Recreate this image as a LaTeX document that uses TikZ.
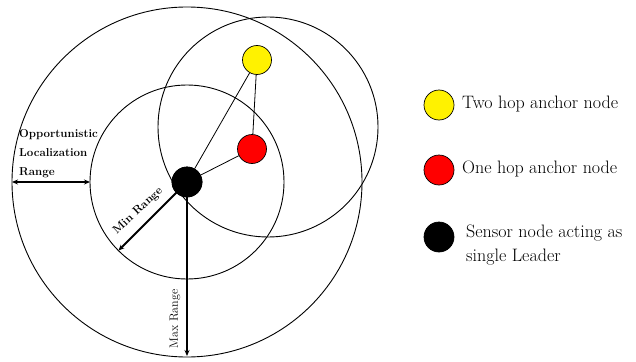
\documentclass[tikz,border=0pt]{standalone}
\usetikzlibrary{arrows.meta}
\begin{document}
\begin{tikzpicture}[x=1pt,y=-1pt,
  ring/.style={draw=black,line width=0.9pt},
  link/.style={draw=black,line width=0.8pt},
  dot/.style={circle,draw=black,line width=0.7pt,minimum size=29pt,inner sep=0pt},
  rangearrow/.style={line width=1.4pt,-{Stealth[length=6pt,width=5pt]}},
  smalllbl/.style={font=\fontsize{11.5}{13}\selectfont\bfseries,inner sep=0pt},
  legendtxt/.style={font=\fontsize{18}{24}\selectfont,anchor=west,inner sep=0pt,align=left}]
\useasboundingbox (0,0) rectangle (636,361);
% range circles
\coordinate (C3) at (268,127);
\node[dot,fill=black,minimum size=30pt] (S) at (187,182) {};
\draw[ring] (S.center) circle[radius=175pt];
\draw[ring] (S.center) circle[radius=97pt];
\draw[ring] (C3) circle[radius=110pt];
% anchor nodes
\node[dot,fill=yellow] (Y) at (257,60) {};
\node[dot,fill=red] (R) at (252,149) {};
\draw[link] (S) -- (Y);
\draw[link] (Y) -- (R);
\draw[link] (S) -- (R);
\node[dot,fill=black,minimum size=30pt] at (187,182) {};
% range arrows
\coordinate (minend) at (118.4,250.6);
\coordinate (maxend) at (187,356);
\draw[rangearrow,line width=1.8pt] (S.center) -- (minend);
\draw[rangearrow] (S.center) -- (maxend);
\node[smalllbl,rotate=43] (minlbl) at (138,211) {Min Range};
\node[smalllbl,font=\fontsize{12}{13}\selectfont,rotate=90] (maxlbl) at (175,319) {Max Range};
% opportunistic range
\coordinate (oppL) at (12,182);
\coordinate (oppR) at (90,182);
\draw[line width=1.4pt,{Stealth[length=6pt,width=5pt]}-{Stealth[length=6pt,width=5pt]}] (oppL) -- (oppR);
\node[smalllbl,anchor=north west,align=left,font=\fontsize{11.5}{19}\selectfont\bfseries] (opplbl) at (19,129) {Opportunistic\\Localization\\Range};
% legend
\node[dot,fill=yellow,minimum size=30pt] (LY) at (439,105) {};
\node[dot,fill=red,minimum size=30pt] (LR) at (439,170) {};
\node[dot,fill=black,minimum size=30pt] (LB) at (439,237) {};
\node[legendtxt] (TY) at (462,104) {Two hop anchor node};
\node[legendtxt] (TR) at (462,169) {One hop anchor node};
\node[legendtxt] (TB) at (466,245) {Sensor node acting as\\single Leader};
\end{tikzpicture}
\end{document}
